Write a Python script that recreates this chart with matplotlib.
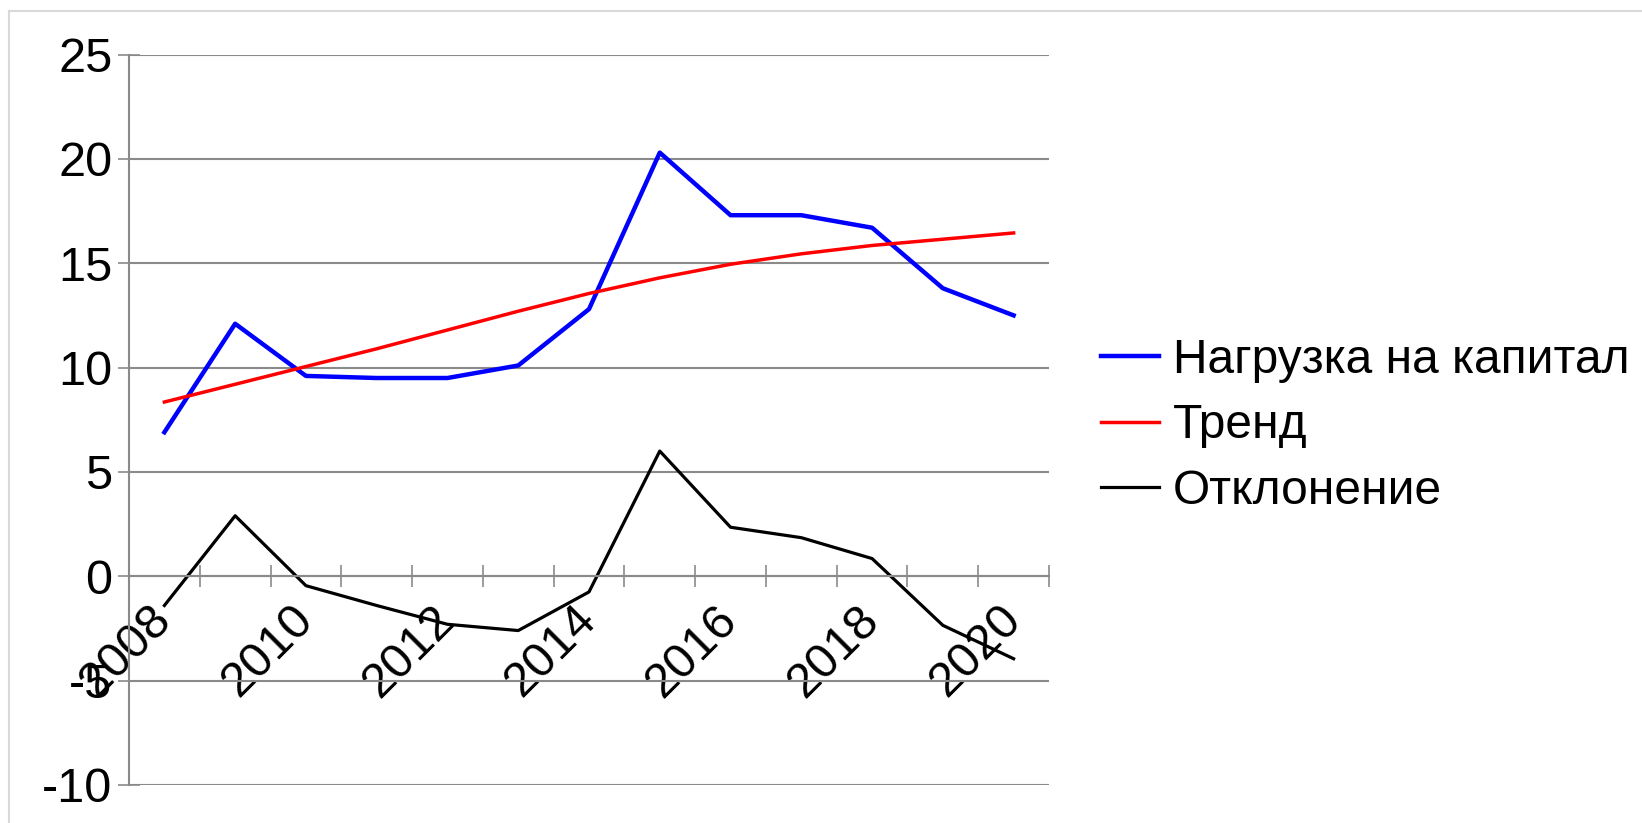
import matplotlib.pyplot as plt
from matplotlib.transforms import ScaledTranslation
from matplotlib.lines import Line2D

plt.rcParams['font.family'] = ['Liberation Sans', 'DejaVu Sans']

years = [2008, 2009, 2010, 2011, 2012, 2013, 2014, 2015, 2016, 2017, 2018, 2019, 2020]
load = [6.9, 12.1, 9.6, 9.5, 9.5, 10.1, 12.8, 20.3, 17.3, 17.3, 16.7, 13.8, 12.5]
trend = [8.35, 9.2, 10.05, 10.9, 11.8, 12.7, 13.55, 14.3, 14.95, 15.45, 15.85, 16.15, 16.45]
deviation = [-1.4, 2.9, -0.45, -1.4, -2.3, -2.6, -0.75, 6.0, 2.35, 1.85, 0.85, -2.35, -3.95]
labels = ["Нагрузка на капитал", "Тренд", "Отклонение"]
yticks = [-10, -5, 0, 5, 10, 15, 20, 25]

grey = "#8a8a8a"

fig = plt.figure(figsize=(16.42, 8.23), dpi=100)
ax = fig.add_axes([129 / 1642, 1 - 785 / 823, 920 / 1642, (785 - 54.5) / 823])

x = list(range(len(years)))
ax.plot(x, load, color="#0000ff", lw=3.2, label=labels[0])
ax.plot(x, trend, color="#ff0000", lw=2.5, label=labels[1])
ax.plot(x, deviation, color="#000000", lw=2.3, label=labels[2])

ax.set_xlim(-0.5, len(years) - 0.5)
ax.set_ylim(-10, 25)
ax.set_yticks(yticks)
ax.set_yticklabels([str(v) for v in yticks])
ax.yaxis.grid(True, color=grey, lw=1.5)
ax.set_axisbelow(True)

for s in ["top", "right"]:
    ax.spines[s].set_visible(False)
ax.spines["left"].set_color(grey)
ax.spines["left"].set_linewidth(1.5)
ax.spines["bottom"].set_position(("data", 0))
ax.spines["bottom"].set_color(grey)
ax.spines["bottom"].set_linewidth(1.5)

# boundaries between categories carry the tick marks
ax.set_xticks([i - 0.5 for i in range(len(years) + 1)])
ax.set_xticklabels([])
ax.tick_params(axis="x", which="major", direction="inout", length=16, width=1.2, color=grey)
ax.set_xticks(x[::2], minor=True)
ax.set_xticklabels([str(y) for y in years[::2]], minor=True, rotation=45, ha="right", va="top",
                   fontsize=35)
ax.tick_params(axis="x", which="minor", length=0, pad=15)
shift = ScaledTranslation(16 / 100, 0, fig.dpi_scale_trans)
for lab in ax.get_xticklabels(minor=True):
    lab.set_transform(lab.get_transform() + shift)

ax.tick_params(axis="y", direction="inout", length=16, width=1.2, color=grey, labelsize=35, pad=4)

fig.add_artist(Line2D([9 / 1642, 9 / 1642], [0, 1 - 11 / 823], color="#d9d9d9", lw=1.5))
fig.add_artist(Line2D([9 / 1642, 1], [1 - 11 / 823, 1 - 11 / 823], color="#d9d9d9", lw=1.5))

fig.legend(loc="center left", bbox_to_anchor=(1101 / 1642, 1 - 426 / 823), frameon=False,
           fontsize=34.5, handlelength=1.2, handletextpad=0.3, labelspacing=0.43,
           borderaxespad=0, borderpad=0)

fig.savefig("out.png", dpi=100)
